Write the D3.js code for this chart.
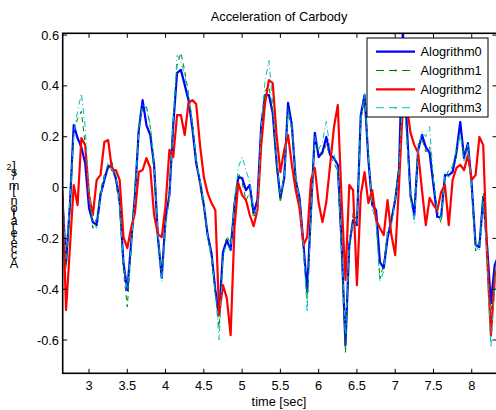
<!DOCTYPE html>
<html>
<head>
<meta charset="utf-8">
<script src="https://cdn.jsdelivr.net/npm/d3@7"></script>
<style>
  body { margin: 0; background: #fff; }
  text { font-family: "Liberation Sans", Arial, sans-serif; fill: #000; }
</style>
</head>
<body>
<svg id="chart" width="496" height="410"></svg>
<script>
const width = 496;
const height = 410;

// sampled every 0.05 s starting at 2.65 s
const timeStart = 2.65;
const timeStep = 0.05;

const seriesNames = ["Alogrithm0", "Alogrithm1", "Alogrithm2", "Alogrithm3"];

const alg0 = [-0.030, -0.297, -0.069, 0.246, 0.195, 0.159, 0.096, -0.081, -0.136, -0.148,
  -0.030, 0.030, 0.085, 0.081, 0.037, -0.049, -0.297, -0.404, -0.219, -0.030,
  0.226, 0.344, 0.246, 0.207, 0.089, -0.195, -0.356, -0.120, -0.030, 0.246,
  0.451, 0.463, 0.404, 0.344, 0.234, 0.096, 0.022, -0.069, -0.187, -0.258,
  -0.404, -0.502, -0.254, -0.207, -0.246, -0.069, 0.041, 0.037, -0.010, 0.010,
  -0.100, -0.049, 0.246, 0.364, 0.364, 0.293, 0.100, -0.041, 0.037, 0.333,
  0.246, 0.030, -0.041, -0.219, -0.411, -0.089, 0.215, 0.120, 0.140, 0.199,
  0.128, 0.116, 0.089, -0.226, -0.620, -0.226, -0.128, -0.148, 0.285, 0.364,
  0.108, -0.069, -0.089, -0.293, -0.317, -0.199, -0.128, -0.049, 0.069, 0.620,
  0.254, -0.030, -0.108, 0.148, 0.207, 0.159, 0.136, 0.010, -0.116, -0.116,
  0.049, 0.049, 0.061, 0.140, 0.258, 0.116, 0.175, 0.010, -0.226, -0.234,
  -0.037, -0.226, -0.455, -0.305, -0.266];

const alg1 = [-0.05, -0.32, -0.10, 0.22, 0.27, 0.30, 0.17, -0.05, -0.16, -0.12,
  -0.01, 0.05, 0.07, 0.10, 0.02, -0.08, -0.33, -0.47, -0.25, -0.01,
  0.25, 0.31, 0.32, 0.24, 0.06, -0.21, -0.33, -0.16, -0.02, 0.27,
  0.48, 0.53, 0.46, 0.37, 0.26, 0.12, 0.00, -0.08, -0.20, -0.28,
  -0.42, -0.55, -0.28, -0.19, -0.22, -0.05, 0.06, 0.02, -0.05, -0.02,
  -0.12, -0.08, 0.23, 0.38, 0.40, 0.30, 0.08, -0.06, 0.06, 0.31,
  0.22, 0.05, -0.06, -0.24, -0.44, -0.12, 0.19, 0.14, 0.13, 0.17,
  0.12, 0.10, 0.06, -0.26, -0.65, -0.25, -0.10, -0.13, 0.26, 0.35,
  0.13, -0.05, -0.12, -0.36, -0.30, -0.17, -0.14, -0.03, 0.09, 0.40,
  0.22, -0.05, -0.07, 0.17, 0.19, 0.14, 0.16, 0.04, -0.09, -0.14,
  0.03, 0.07, 0.08, 0.12, 0.22, 0.13, 0.16, -0.02, -0.25, -0.21,
  -0.02, -0.25, -0.50, -0.33, -0.24];

const alg2 = [-0.010, -0.482, -0.238, 0.010, -0.069, 0.195, 0.167, -0.030, -0.108, 0.030,
  0.049, 0.179, 0.187, 0.069, 0.069, 0.030, -0.195, -0.238, -0.159, -0.100,
  0.061, 0.069, 0.116, 0.077, -0.108, -0.183, -0.195, -0.069, 0.148, 0.120,
  0.285, 0.285, 0.207, 0.333, 0.344, 0.329, 0.167, 0.041, -0.022, -0.061,
  -0.089, -0.502, -0.384, -0.435, -0.581, -0.159, 0.018, -0.030, -0.049, -0.108,
  -0.152, -0.089, 0.167, 0.333, 0.423, 0.411, 0.207, 0.061, 0.148, 0.207,
  0.089, -0.010, -0.081, -0.226, -0.195, 0.030, 0.077, -0.061, -0.136, -0.057,
  0.089, 0.238, 0.325, -0.049, -0.364, 0.010, -0.010, -0.384, -0.030, 0.061,
  -0.061, -0.010, -0.128, -0.159, -0.187, -0.049, -0.187, -0.266, 0.010, 0.325,
  0.325, 0.215, 0.167, 0.136, -0.010, -0.148, -0.041, -0.069, -0.089, -0.018,
  0.010, -0.148, 0.030, 0.077, 0.089, 0.069, 0.128, 0.030, 0.049, 0.199,
  0.167, -0.266, -0.581, -0.364, -0.285];

const alg3 = [-0.02, -0.28, -0.05, 0.21, 0.30, 0.37, 0.24, -0.02, -0.13, -0.16,
  -0.04, 0.04, 0.10, 0.07, 0.05, -0.06, -0.30, -0.40, -0.23, -0.04,
  0.22, 0.33, 0.31, 0.25, 0.10, -0.18, -0.37, -0.14, -0.05, 0.26,
  0.52, 0.50, 0.44, 0.36, 0.25, 0.10, 0.03, -0.06, -0.19, -0.27,
  -0.41, -0.60, -0.27, -0.22, -0.25, -0.07, 0.08, 0.12, 0.07, 0.02,
  -0.09, -0.10, 0.24, 0.42, 0.50, 0.33, 0.12, -0.03, 0.04, 0.30,
  0.25, 0.04, -0.05, -0.23, -0.49, -0.10, 0.20, 0.15, 0.18, 0.26,
  0.15, 0.13, 0.07, -0.24, -0.58, -0.21, -0.14, -0.15, 0.27, 0.37,
  0.12, -0.08, -0.14, -0.37, -0.33, -0.18, -0.15, -0.05, 0.06, 0.38,
  0.20, -0.04, -0.14, 0.15, 0.22, 0.20, 0.24, 0.03, -0.10, -0.12,
  0.06, 0.04, 0.09, 0.15, 0.21, 0.10, 0.17, 0.00, -0.23, -0.25,
  -0.05, -0.28, -0.63, -0.38, -0.27];

const xTicks = [3, 3.5, 4, 4.5, 5, 5.5, 6, 6.5, 7, 7.5, 8];
const yTicks = [-0.6, -0.4, -0.2, 0, 0.2, 0.4, 0.6];

const styles = [
  { color: "#0000ff", width: 2.2, dash: null },
  { color: "#008000", width: 1, dash: "5,4" },
  { color: "#ff0000", width: 2.2, dash: null },
  { color: "#00bfbf", width: 1, dash: "6,3,1,3" },
];

const margin = { left: 62.7, top: 33.3, right: 497, bottom: 373.3 };

const svg = d3.select("#chart");

const x = d3.scaleLinear().domain([2.656, 8.33]).range([margin.left, margin.right]);
const y = d3.scaleLinear().domain([-0.731, 0.607]).range([margin.bottom, margin.top]);

svg.append("clipPath").attr("id", "plotClip")
  .append("rect")
  .attr("x", margin.left).attr("y", margin.top)
  .attr("width", margin.right - margin.left).attr("height", margin.bottom - margin.top);

// The lines
const allSeries = [alg0, alg1, alg2, alg3];
const line = d3.line()
  .x((d, i) => x(timeStart + i * timeStep))
  .y(d => y(d));

const plot = svg.append("g").attr("clip-path", "url(#plotClip)");
allSeries.forEach((values, k) => {
  plot.append("path")
    .datum(values)
    .attr("fill", "none")
    .attr("stroke", styles[k].color)
    .attr("stroke-width", styles[k].width)
    .attr("stroke-dasharray", styles[k].dash)
    .attr("stroke-linejoin", "round")
    .attr("d", line);
});

// Axes box with inward ticks (matlab style)
const tickLen = 4.5;
const axisG = svg.append("g").attr("stroke", "#000");
axisG.append("rect")
  .attr("x", margin.left).attr("y", margin.top)
  .attr("width", margin.right - margin.left).attr("height", margin.bottom - margin.top)
  .attr("fill", "none").attr("stroke-width", 1.6);

xTicks.forEach(t => {
  axisG.append("line").attr("x1", x(t)).attr("x2", x(t))
    .attr("y1", margin.bottom).attr("y2", margin.bottom - tickLen).attr("stroke-width", 1);
  axisG.append("line").attr("x1", x(t)).attr("x2", x(t))
    .attr("y1", margin.top).attr("y2", margin.top + tickLen).attr("stroke-width", 1);
});
yTicks.forEach(t => {
  axisG.append("line").attr("x1", margin.left).attr("x2", margin.left + tickLen)
    .attr("y1", y(t)).attr("y2", y(t)).attr("stroke-width", 1);
  axisG.append("line").attr("x1", margin.right).attr("x2", margin.right - tickLen)
    .attr("y1", y(t)).attr("y2", y(t)).attr("stroke-width", 1);
});

const fontSize = 12.8;

svg.append("g").selectAll("text")
  .data(xTicks)
  .join("text")
  .attr("x", d => x(d))
  .attr("y", 389.5)
  .attr("text-anchor", "middle")
  .attr("font-size", fontSize)
  .text(d => d);

svg.append("g").selectAll("text")
  .data(yTicks)
  .join("text")
  .attr("x", 59)
  .attr("y", d => y(d) + 4.5)
  .attr("text-anchor", "end")
  .attr("font-size", fontSize)
  .text(d => d);

svg.append("text")
  .attr("x", 279).attr("y", 21)
  .attr("text-anchor", "middle")
  .attr("font-size", fontSize)
  .text("Acceleration of Carbody");

svg.append("text")
  .attr("x", 279).attr("y", 406)
  .attr("text-anchor", "middle")
  .attr("font-size", fontSize)
  .text("time [sec]");

// y label: glyphs stacked upward, each left upright
const yLabelChars = ["A", "c", "c", "e", "l", "e", "r", "a", "t", "i", "o", "n", " ", "[", "m", "/", "s", "2", "]"];
const yLabel = svg.append("g");
let cursor = 268;
yLabelChars.forEach(ch => {
  const sup = ch === "2";
  const t = yLabel.append("text")
    .attr("x", sup ? 9 : 14)
    .attr("y", cursor)
    .attr("text-anchor", "middle")
    .attr("font-size", sup ? 9 : fontSize)
    .text(ch);
  const w = ch === " " ? fontSize * 0.278 : t.node().getComputedTextLength();
  if (!sup) cursor -= w;
});

// Legend
const legend = svg.append("g");
legend.append("rect")
  .attr("x", 367).attr("y", 38).attr("width", 121).attr("height", 79)
  .attr("fill", "#fff").attr("stroke", "#000").attr("stroke-width", 1);
const rowY = [51.7, 70.5, 89.3, 107.7];
seriesNames.forEach((name, k) => {
  legend.append("line")
    .attr("x1", 376).attr("x2", 415)
    .attr("y1", rowY[k]).attr("y2", rowY[k])
    .attr("stroke", styles[k].color)
    .attr("stroke-width", styles[k].width)
    .attr("stroke-dasharray", styles[k].dash ? "8,5" : null);
  if (styles[k].dash) {
    legend.append("circle").attr("cx", 395.5).attr("cy", rowY[k]).attr("r", 1)
      .attr("fill", styles[k].color);
  }
  legend.append("text")
    .attr("x", 420.5).attr("y", rowY[k] + 4.5)
    .attr("font-size", fontSize)
    .text(name);
});
</script>
</body>
</html>
